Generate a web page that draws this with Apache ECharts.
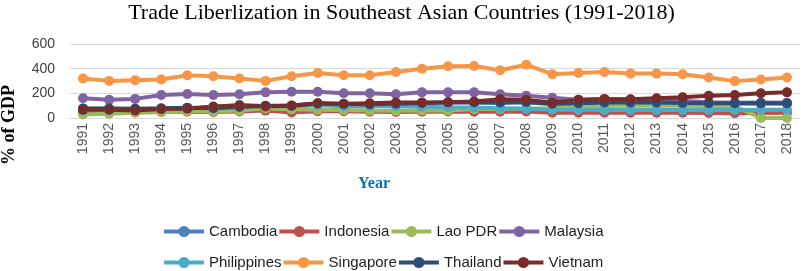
<!DOCTYPE html>
<html>
<head>
<meta charset="utf-8">
<script src="https://cdn.jsdelivr.net/npm/echarts@6/dist/echarts.min.js"></script>
<style>
  html, body { margin: 0; padding: 0; background: #fff; }
  #main { width: 803px; height: 271px; }
</style>
</head>
<body>
<div id="main"></div>
<script>
// years on the x axis
var years = ['1991','1992','1993','1994','1995','1996','1997','1998','1999','2000',
             '2001','2002','2003','2004','2005','2006','2007','2008','2009','2010',
             '2011','2012','2013','2014','2015','2016','2017','2018'];

// trade, % of GDP
var cambodia    = [75, 74, 73, 76, 82, 78, 88, 97, 98, 115, 112, 110, 112, 119, 125, 125, 122, 127, 112, 117, 122, 122, 122, 119, 117, 117, 117, 117];
var indonesia   = [48, 50, 46, 48, 50, 48, 52, 60, 45, 55, 55, 50, 48, 50, 52, 50, 50, 52, 42, 42, 42, 42, 42, 42, 40, 38, 40, 42];
var laoPDR      = [28, 35, 42, 48, 52, 55, 60, 78, 70, 66, 64, 60, 58, 61, 61, 72, 72, 78, 80, 95, 98, 100, 100, 100, 98, 95, 0, 0];
var malaysia    = [160, 147, 155, 187, 195, 187, 192, 208, 213, 213, 200, 200, 192, 208, 208, 208, 192, 181, 165, 148, 150, 148, 143, 138, 128, 124, 126, 124];
var philippines = [62, 64, 70, 73, 80, 89, 108, 98, 96, 104, 96, 97, 95, 92, 88, 85, 80, 75, 67, 67, 65, 65, 64, 64, 64, 65, 67, 67];
var singapore   = [320, 301, 307, 312, 347, 339, 320, 301, 339, 365, 347, 347, 373, 400, 419, 421, 387, 432, 355, 365, 373, 360, 360, 355, 328, 299, 312, 328];
var thailand    = [78, 77, 76, 79, 84, 80, 90, 100, 100, 118, 114, 112, 115, 122, 128, 128, 125, 130, 115, 120, 125, 125, 125, 122, 120, 120, 120, 120];
var vietnam     = [67, 67, 61, 72, 75, 93, 101, 93, 101, 120, 115, 120, 125, 125, 128, 133, 152, 147, 125, 147, 155, 152, 160, 168, 181, 187, 200, 208];

var yTicks = [0, 200, 400, 600];

var names  = ['Cambodia','Indonesia','Lao PDR','Malaysia','Philippines','Singapore','Thailand','Vietnam'];
var values = [cambodia, indonesia, laoPDR, malaysia, philippines, singapore, thailand, vietnam];
var colors = ['#4F81BD','#C0504D','#9BBB59','#8064A2','#4BACC6','#F79646','#2C4D75','#772C2A'];

var series = [];
for (var i = 0; i < names.length; i++) {
    series.push({
        name: names[i],
        type: 'line',
        data: values[i],
        symbol: 'circle',
        symbolSize: 10,
        lineStyle: { width: 4, color: colors[i] },
        itemStyle: { color: colors[i] },
        animation: false
    });
}

var legendText = { fontFamily: 'Liberation Sans', fontSize: 15, color: '#222', width: 76 };

var option = {
    title: {
        text: 'Trade Liberlization in Southeast Asian Countries (1991-2018)',
        left: 'center',
        top: -3,
        textStyle: { fontFamily: 'Liberation Serif', fontSize: 22, fontWeight: 'normal', color: '#000' }
    },
    legend: [{
        data: names.slice(0, 4),
        left: 162, top: 224, padding: 0,
        itemWidth: 40, itemHeight: 14, itemGap: 0,
        lineStyle: { width: 4 },
        textStyle: legendText
    }, {
        data: names.slice(4),
        left: 162, top: 255, padding: 0,
        itemWidth: 40, itemHeight: 14, itemGap: 0,
        lineStyle: { width: 4 },
        textStyle: legendText
    }],
    grid: { left: 70, right: 3, top: 44, bottom: 153 },
    xAxis: {
        type: 'category',
        data: years,
        axisTick: { show: false },
        axisLine: { lineStyle: { color: '#D9D9D9', width: 1 } },
        axisLabel: { rotate: 90, margin: 5, fontFamily: 'Liberation Sans', fontSize: 14, color: '#595959' }
    },
    yAxis: {
        type: 'value',
        min: yTicks[0],
        max: yTicks[yTicks.length - 1],
        interval: 200,
        axisLabel: { margin: 15, fontFamily: 'Liberation Sans', fontSize: 14, color: '#404040' },
        splitLine: { lineStyle: { color: '#D9D9D9', width: 1 } }
    },
    graphic: [{
        type: 'text',
        x: 9, y: 125,
        rotation: Math.PI / 2,
        style: { text: '% of GDP', font: 'bold 18px "Liberation Serif"', fill: '#000', align: 'center', verticalAlign: 'middle' }
    }, {
        type: 'text',
        x: 374, y: 184,
        style: { text: 'Year', font: 'bold 16px "Liberation Serif"', fill: '#0070C0', align: 'center', verticalAlign: 'middle' }
    }],
    series: series
};

var myChart = echarts.init(document.getElementById('main'));
myChart.setOption(option);
</script>
</body>
</html>
